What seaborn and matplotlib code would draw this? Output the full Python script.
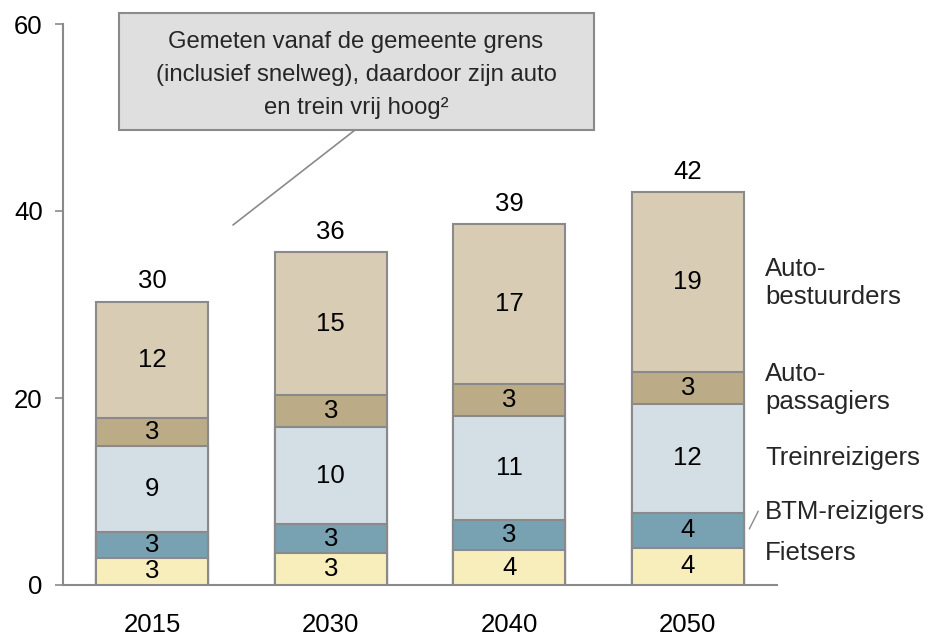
import matplotlib
matplotlib.use("Agg")
import matplotlib.pyplot as plt
from matplotlib.patches import Rectangle
from matplotlib.lines import Line2D
import seaborn as sns
import numpy as np
import pandas as pd

years = ["2015", "2030", "2040", "2050"]
fietsers = [2.9, 3.4, 3.7, 4.0]
btm = [2.8, 3.1, 3.2, 3.7]
trein = [9.2, 10.4, 11.2, 11.7]
autopass = [3.0, 3.4, 3.4, 3.4]
autobest = [12.4, 15.3, 17.1, 19.2]

series_names = ["Fietsers", "BTM-reizigers", "Treinreizigers", "Auto-\npassagiers", "Auto-\nbestuurders"]
series_vals = [fietsers, btm, trein, autopass, autobest]
colors = ["#F8EEBC", "#78A2B2", "#D3DFE5", "#BBAB87", "#D8CCB5"]
label_y = [3.4, 7.8, 13.6, 21.1, 32.3]
annotation = "Gemeten vanaf de gemeente grens\n(inclusief snelweg), daardoor zijn auto\nen trein vrij hoog²"

sns.set_style("white")
plt.rcParams["font.family"] = ["Liberation Sans", "DejaVu Sans"]
FS = 18.5
FS_BOX = 17.2
EDGE = "#8A8A8A"

fig = plt.figure(figsize=(9.33, 6.37), dpi=100)
ax = fig.add_axes([63/933, 1-585/637, (777-63)/933, (585-24)/637])

vals = np.array(series_vals)
cum = np.cumsum(vals, axis=0)

# draw from top layer down so lower layers overlay
for k in range(len(series_vals)-1, -1, -1):
    df = pd.DataFrame({"year": years, "v": cum[k]})
    sns.barplot(data=df, x="year", y="v", color=colors[k], saturation=1,
                width=0.63, edgecolor=EDGE, linewidth=1.5, ax=ax, zorder=2 + (len(series_vals)-k))

# segment labels
for k in range(len(series_vals)):
    for i in range(len(years)):
        bottom = cum[k][i] - vals[k][i]
        ax.text(i, bottom + vals[k][i]/2, f"{vals[k][i]:.0f}", ha="center", va="center",
                fontsize=FS, color="black", zorder=20)

# totals
for i in range(len(years)):
    ax.annotate(f"{cum[-1][i]:.0f}", (i, cum[-1][i]), xytext=(0, 6), textcoords="offset points",
                ha="center", va="bottom", fontsize=FS, color="black")

# series labels on right
for name, y in zip(series_names, label_y):
    ax.text(3.434, y, name, ha="left", va="center", fontsize=FS, linespacing=1.22,
            clip_on=False)
ax.add_line(Line2D([3.345, 3.395], [6.0, 7.9], color=EDGE, lw=1, clip_on=False))

ax.set_xlim(-0.5, 3.5)
ax.set_ylim(0, 60)
ax.set_yticks([0, 20, 40, 60])
ax.set_xlabel("")
ax.set_ylabel("")
ax.set_xticks(range(len(years)))
ax.set_xticklabels(years)
ax.set_xticks([-0.5, 0.5, 1.5, 2.5, 3.5], minor=True)
ax.tick_params(axis="x", which="major", length=0, pad=20, labelsize=FS, labelcolor="black")
ax.tick_params(axis="x", which="minor", length=6, width=1.2, color=EDGE, direction="out")
ax.tick_params(axis="y", which="major", length=6, width=1.2, color=EDGE, pad=8.5,
               labelsize=FS, labelcolor="black", left=True)
for s in ["top", "right"]:
    ax.spines[s].set_visible(False)
for s in ["left", "bottom"]:
    ax.spines[s].set_color(EDGE)
    ax.spines[s].set_linewidth(1.5)
ax.grid(False)

# annotation box
fig.patches.append(Rectangle((119/933, 1-130/637), 475/933, 117/637, transform=fig.transFigure,
                             facecolor="#DFDFDF", edgecolor=EDGE, linewidth=1.5, zorder=5))
fig.text(356/933, 1-75/637, annotation, ha="center", va="center", fontsize=FS_BOX,
         linespacing=1.65, zorder=6)
fig.lines.append(Line2D([355/933, 233/933], [1-130/637, 1-225/637], transform=fig.transFigure,
                        color=EDGE, lw=1.2))

fig.savefig("out.png", dpi=100)
